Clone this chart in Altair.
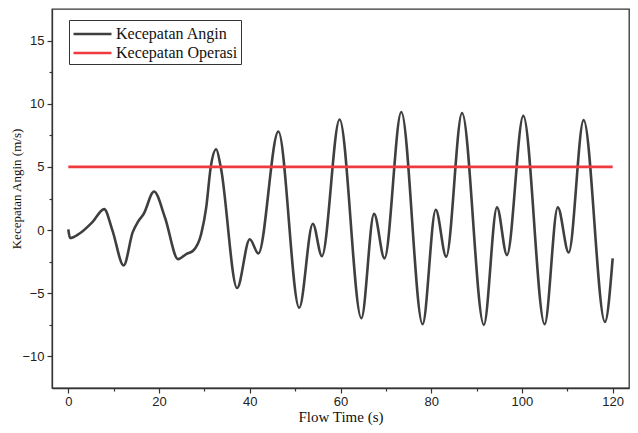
import altair as alt
import pandas as pd

# Wind speed key points (Flow Time s, m/s)
time_s = [0, 0.37, 2.4, 5.3, 7.9, 9.7, 12.2, 14.2, 15.3, 16.6, 18.9, 21.3, 24.2, 26.0,
          27.5, 29.3, 30.4, 31.4, 32.6, 33.6, 37.2, 40.0, 41.9, 46.3, 50.9, 53.9, 55.9,
          59.8, 64.6, 67.4, 69.7, 73.4, 78.1, 81.0, 83.3, 86.8, 91.6, 94.5, 96.7,
          100.3, 105.0, 107.9, 110.3, 113.6, 118.3, 120.0]
wind = [0.05, -0.63, -0.29, 0.63, 1.66, 0.0, -2.8, -0.16, 0.63, 1.27, 3.05, 1.0, -2.3, -1.9,
        -1.64, -0.29, 1.8, 5.0, 6.4, 5.0, -4.58, -0.73, -1.85, 7.8, -6.15, 0.5, -2.06,
        8.75, -6.98, 1.28, -2.24, 9.35, -7.45, 1.61, -2.1, 9.27, -7.5, 1.8, -1.98,
        9.04, -7.45, 1.8, -1.77, 8.7, -7.27, -2.24]

op_time = [0, 120]
op_speed = [5, 5]

series_names = ["Kecepatan Angin", "Kecepatan Operasi"]
series_colors = ["#3f3f3f", "#ef3b3e"]

x_ticks = list(range(0, 121, 10))
y_ticks = [-10, -7.5, -5, -2.5, 0, 2.5, 5, 7.5, 10, 12.5, 15]

df_wind = pd.DataFrame({"t": time_s, "v": wind, "s": series_names[0]})
df_op = pd.DataFrame({"t": op_time, "v": op_speed, "s": series_names[1]})

x_enc = alt.X("t:Q", title="Flow Time (s)",
              scale=alt.Scale(domain=[-3.6, 123.6], nice=False, zero=False),
              axis=alt.Axis(values=x_ticks, grid=False,
                            labelExpr="datum.value % 20 === 0 ? datum.label : ''",
                            tickSize={"condition": {"test": "datum.value % 20 === 0", "value": 5}, "value": 3},
                            labelFont="Liberation Sans", labelFontSize=13, labelColor="#222",
                            labelPadding=2,
                            titleFont="Liberation Serif", titleFontSize=15, titleFontWeight="normal",
                            titleColor="#111", titleY=33, titleBaseline="alphabetic"))
y_enc = alt.Y("v:Q", title="Kecepatan Angin (m/s)",
              scale=alt.Scale(domain=[-12.5, 17.5], nice=False, zero=False),
              axis=alt.Axis(values=y_ticks, grid=False,
                            labelExpr="datum.value % 5 === 0 ? datum.label : ''",
                            tickSize={"condition": {"test": "datum.value % 5 === 0", "value": 5}, "value": 3},
                            labelFont="Liberation Sans", labelFontSize=13, labelColor="#222",
                            labelPadding=3,
                            titleFont="Liberation Serif", titleFontSize=13, titleFontWeight="normal",
                            titleColor="#111", titleX=-29, titleY=179.5, titleBaseline="bottom",
                            titleAlign="center", titleAngle=270))
color_enc = alt.Color("s:N", scale=alt.Scale(domain=series_names, range=series_colors),
                      legend=alt.Legend(orient="none", legendX=17, legendY=11, title=None,
                                        strokeColor="#333", fillColor="white", padding=3,
                                        symbolType="M-1,0L3,0", symbolSize=361, symbolStrokeWidth=2.6,
                                        labelFont="Liberation Serif", labelFontSize=16,
                                        labelColor="#111", labelOffset=22, rowPadding=0,
                                        labelLimit=300))

wind_line = alt.Chart(df_wind).mark_line(interpolate="monotone", strokeWidth=2.6).encode(
    x=x_enc, y=y_enc, color=color_enc)
op_line = alt.Chart(df_op).mark_line(strokeWidth=2.6).encode(
    x=x_enc, y=y_enc, color=color_enc)

chart = alt.layer(wind_line, op_line).properties(
    width=577, height=379,
    autosize=alt.AutoSizeParams(type="none"),
    padding={"left": 44, "top": 1, "right": 1, "bottom": 37},
).configure_view(stroke="#333", strokeWidth=1.3).configure_axis(
    domainColor="#333", domainWidth=1.3, tickColor="#333", tickWidth=1.2
)

chart.save("out.html", embed_options={"renderer": "svg", "actions": False})
